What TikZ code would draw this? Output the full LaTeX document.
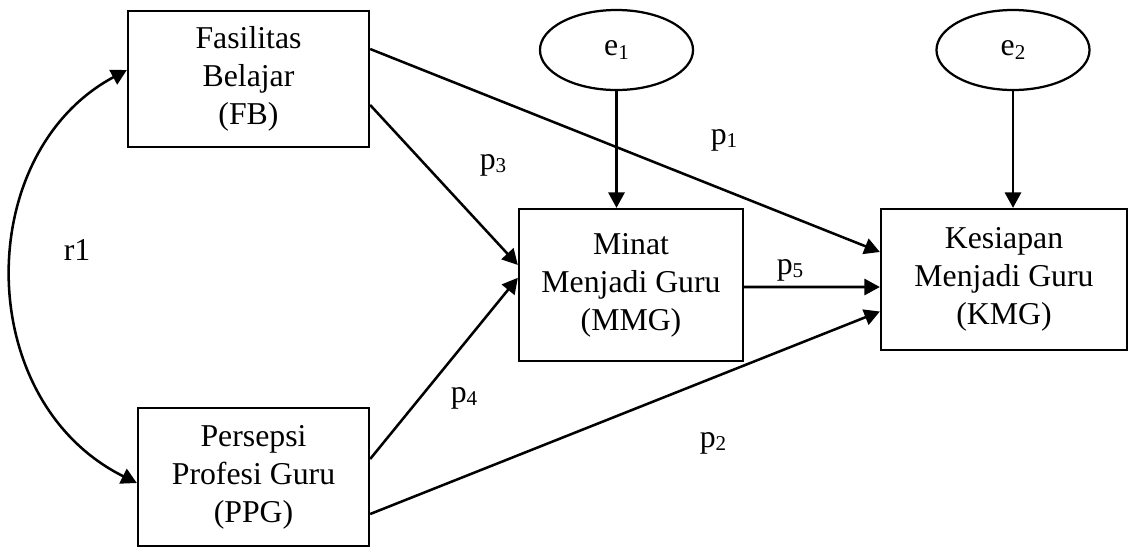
\documentclass[tikz,border=0pt]{standalone}
\usepackage{fontspec}
\setmainfont{Liberation Serif}
\usetikzlibrary{arrows.meta,shapes.geometric}
\newcommand\sbs[1]{\raisebox{-0.12em}{\fontsize{15}{15}\selectfont #1}}
\begin{document}
\begin{tikzpicture}[x=0.025cm,y=-0.025cm,
  every node/.style={font=\fontsize{22.6}{27}\selectfont},
  box/.style={draw, line width=1.6pt, rectangle, align=center, inner sep=0pt},
  errnode/.style={draw, ellipse, line width=1.6pt, minimum width=3.825cm, minimum height=2cm, inner sep=0pt},
  arr/.style={line width=1.8pt, -{Triangle[length=11pt,width=11.5pt]}},
  dbl/.style={line width=1.8pt, {Triangle[length=11pt,width=11.5pt]}-{Triangle[length=11pt,width=11.5pt]}},
  lbl/.style={inner sep=0pt}]
\useasboundingbox (0,0) rectangle (1129,547);
% nodes
\node[box, minimum width=6.025cm, minimum height=3.4cm] (fb) at (248.5,79) {Fasilitas\\Belajar\\(FB)};
\node[box, minimum width=5.775cm, minimum height=3.45cm] (ppg) at (253.5,477) {Persepsi\\Profesi Guru\\(PPG)};
\node[box, minimum width=5.6cm, minimum height=3.8cm] (mmg) at (631,285) {Minat\\Menjadi Guru\\(MMG)};
\node[box, minimum width=6.15cm, minimum height=3.525cm] (kmg) at (1004,279.5) {Kesiapan\\Menjadi Guru\\(KMG)};
\node[errnode] (e1) at (616.5,50) {e\sbs{1}};
\node[errnode] (e2) at (1013,50) {e\sbs{2}};
% labels
\node[lbl] (lr1) at (77,250) {r1};
\node[lbl] (lp1) at (724,140) {p\sbs{1}};
\node[lbl] (lp2) at (713,443) {p\sbs{2}};
\node[lbl] (lp3) at (493,165) {p\sbs{3}};
\node[lbl] (lp4) at (464,398) {p\sbs{4}};
\node[lbl] (lp5) at (790,270) {p\sbs{5}};
% connectors
\draw[arr] ([yshift=0.75cm]fb.east) -- ([yshift=0.6875cm]kmg.west);
\draw[arr] ([yshift=-0.65cm]fb.east) -- ([yshift=0.5cm]mmg.west);
\draw[arr] ([yshift=0.45cm]ppg.east) -- ([yshift=0.18cm]mmg.west);
\draw[arr] ([yshift=-0.925cm]ppg.east) -- ([yshift=-0.8cm]kmg.west);
\draw[arr] ([yshift=-0.05cm]mmg.east) -- ([yshift=-0.1875cm]kmg.west);
\draw[arr] (e1.south) -- (e1.south |- mmg.north);
\draw[arr] (e2.south) -- (e2.south |- kmg.north);
\draw[dbl] ([yshift=0.225cm]fb.west) .. controls (-28,153) and (-28,401) .. ([yshift=-0.15cm]ppg.west);
\end{tikzpicture}
\end{document}
